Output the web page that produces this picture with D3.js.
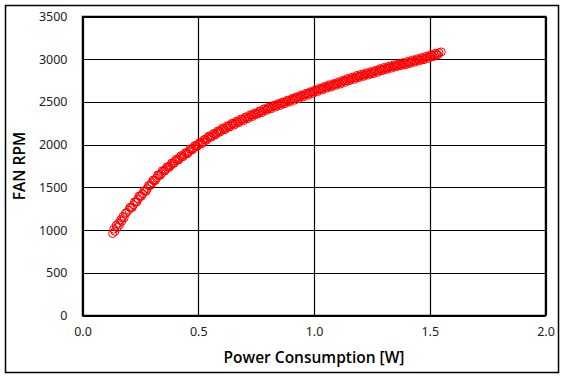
<!DOCTYPE html>
<html>
<head>
<meta charset="utf-8">
<script src="https://cdn.jsdelivr.net/npm/d3@7"></script>
<style>
html,body{margin:0;padding:0;background:#fff;}
svg{display:block;}
text{font-family:"Noto Sans","Open Sans",sans-serif;}
</style>
</head>
<body>
<svg id="chart" width="565" height="379"></svg>
<script>
const xTicks = [0.0, 0.5, 1.0, 1.5, 2.0];
const yTicks = [0, 500, 1000, 1500, 2000, 2500, 3000, 3500];
const xTitle = "Power Consumption [W]";
const yTitle = "FAN RPM";

// sweep 1
const power = [
0.130,0.135,0.140,0.145,0.150,0.155,0.160,0.165,0.170,0.175,0.180,0.185,0.190,0.200,0.210,0.220,0.230,0.240,0.250,0.260,
0.270,0.280,0.290,0.300,0.310,0.320,0.330,0.340,0.350,0.360,0.370,0.380,0.390,0.400,0.410,0.420,0.430,0.440,0.450,0.460,
0.470,0.480,0.490,0.500,0.510,0.520,0.530,0.540,0.550,0.560,0.570,0.580,0.590,0.600,0.610,0.620,0.630,0.640,0.650,0.660,
0.670,0.680,0.690,0.700,0.710,0.720,0.730,0.740,0.750,0.760,0.770,0.780,0.790,0.800,0.810,0.820,0.830,0.840,0.850,0.860,
0.870,0.880,0.890,0.900,0.910,0.920,0.930,0.940,0.950,0.960,0.970,0.980,0.990,1.000,1.010,1.020,1.030,1.040,1.050,1.060,
1.070,1.080,1.090,1.100,1.110,1.120,1.130,1.140,1.150,1.160,1.170,1.180,1.190,1.200,1.210,1.220,1.230,1.240,1.250,1.260,
1.270,1.280,1.290,1.300,1.310,1.320,1.330,1.340,1.350,1.360,1.370,1.380,1.390,1.400,1.410,1.420,1.430,1.440,1.450,1.460,
1.470,1.480,1.490,1.500,1.510,1.520,1.530,1.540,1.550
];
const rpm = [
960,1010,985,1055,1030,1080,1060,1120,1105,1160,1145,1195,1205,1235,1265,1295,1330,1365,1400,1425,
1460,1485,1525,1555,1580,1610,1645,1660,1695,1710,1740,1755,1780,1805,1820,1845,1860,1885,1900,1920,
1945,1960,1985,2000,2020,2030,2060,2070,2095,2100,2125,2135,2155,2170,2185,2195,2215,2225,2245,2250,
2270,2275,2295,2300,2320,2325,2345,2350,2365,2370,2390,2395,2415,2420,2435,2440,2455,2460,2475,2480,
2495,2500,2515,2520,2535,2540,2555,2560,2575,2580,2595,2600,2615,2620,2635,2640,2655,2660,2675,2675,
2690,2695,2710,2710,2725,2730,2745,2750,2765,2765,2780,2785,2800,2800,2815,2815,2830,2835,2845,2850,
2860,2865,2880,2880,2895,2895,2910,2915,2925,2925,2940,2940,2950,2950,2965,2965,2980,2980,2995,2995,
3010,3010,3025,3030,3045,3050,3060,3075,3085
];

// sweep 2
const power2 = [
0.205,0.215,0.225,0.235,0.245,0.255,0.265,0.275,0.285,0.295,0.305,0.315,0.325,0.335,0.345,0.355,0.365,0.375,0.385,0.395,
0.405,0.415,0.425,0.435,0.445,0.455,0.465,0.475,0.485,0.495,0.505,0.515,0.525,0.535,0.545,0.555,0.565,0.575,0.585,0.595,
0.605,0.615,0.625,0.635,0.645,0.655,0.665,0.675,0.685,0.695,0.705,0.715,0.725,0.735,0.745,0.755,0.765,0.775,0.785,0.795,
0.805,0.815,0.825,0.835,0.845,0.855,0.865,0.875,0.885,0.895,0.905,0.915,0.925,0.935,0.945,0.955,0.965,0.975,0.985,0.995,
1.005,1.015,1.025,1.035,1.045,1.055,1.065,1.075,1.085,1.095,1.105,1.115,1.125,1.135,1.145,1.155,1.165,1.175,1.185,1.195,
1.205,1.215,1.225,1.235,1.245,1.255,1.265,1.275,1.285,1.295,1.305,1.315,1.325,1.335,1.345,1.355,1.365,1.375,1.385,1.395,
1.405,1.415,1.425,1.435,1.445,1.455,1.465,1.475,1.485,1.495,1.505,1.515,1.525,1.535
];
const rpm2 = [
1265,1265,1330,1330,1400,1395,1460,1455,1520,1525,1585,1580,1645,1640,1695,1690,1740,1735,1785,1780,
1830,1820,1870,1860,1905,1895,1950,1940,1990,1980,2025,2010,2060,2050,2100,2085,2130,2115,2160,2150,
2195,2175,2220,2205,2250,2230,2275,2255,2300,2280,2325,2305,2350,2330,2370,2355,2395,2375,2420,2400,
2440,2420,2460,2440,2480,2460,2500,2480,2520,2500,2540,2520,2560,2540,2580,2560,2600,2580,2620,2600,
2640,2620,2660,2640,2680,2660,2700,2675,2715,2695,2735,2710,2755,2730,2775,2750,2790,2765,2810,2785,
2825,2800,2840,2815,2855,2830,2870,2845,2890,2865,2905,2880,2920,2895,2935,2910,2945,2925,2960,2935,
2975,2950,2990,2965,3005,2980,3020,2995,3035,3010,3055,3030,3070,3050
];

const svg = d3.select("#chart");
const m = {left: 82.5, top: 16.5, right: 545.5, bottom: 315.5};

// outer border
svg.append("rect").attr("x", 5.5).attr("y", 5.5).attr("width", 553).attr("height", 367)
  .attr("fill", "#fff").attr("stroke", "#000").attr("stroke-width", 1.5);

const x = d3.scaleLinear().domain([0, 2.0]).range([m.left, m.right]);
const y = d3.scaleLinear().domain([0, 3500]).range([m.bottom, m.top]);

// gridlines
const g = svg.append("g");
g.selectAll("line.vg").data(xTicks).enter().append("line")
  .attr("x1", d => Math.round(x(d)) + 0.5).attr("x2", d => Math.round(x(d)) + 0.5)
  .attr("y1", m.top).attr("y2", m.bottom)
  .attr("stroke", "#000").attr("stroke-width", 1.2);
g.selectAll("line.hg").data(yTicks).enter().append("line")
  .attr("y1", d => Math.round(y(d)) + 0.5).attr("y2", d => Math.round(y(d)) + 0.5)
  .attr("x1", m.left).attr("x2", m.right)
  .attr("stroke", "#000").attr("stroke-width", 1.2);

svg.append("rect").attr("x", m.left).attr("y", m.top)
  .attr("width", m.right - m.left).attr("height", m.bottom - m.top)
  .attr("fill", "none").attr("stroke", "#000").attr("stroke-width", 1.5);

// tick labels via axes (no domain/tick lines)
const xAxis = d3.axisBottom(x).tickValues(xTicks).tickFormat(d3.format(".1f")).tickSize(0).tickPadding(12);
const xa = svg.append("g").attr("transform", `translate(0,${m.bottom})`).call(xAxis);
xa.select(".domain").remove();
xa.selectAll("text").attr("font-size", 12.5).attr("fill", "#222")
  .style("font-family", '"Noto Sans","Open Sans",sans-serif');

const yAxis = d3.axisLeft(y).tickValues(yTicks).tickFormat(d3.format("d")).tickSize(0).tickPadding(15);
const ya = svg.append("g").attr("transform", `translate(${m.left},0)`).call(yAxis);
ya.select(".domain").remove();
ya.selectAll("text").attr("font-size", 12.5).attr("fill", "#222")
  .style("font-family", '"Noto Sans","Open Sans",sans-serif');

// points
const pts = power.map((p, i) => ({p, r: rpm[i]}))
  .concat(power2.map((p, i) => ({p, r: rpm2[i]})));
svg.append("g").selectAll("circle").data(pts).enter().append("circle")
  .attr("cx", d => x(d.p)).attr("cy", d => y(d.r)).attr("r", 4)
  .attr("fill", "none").attr("stroke", "#ff0000").attr("stroke-width", 1);

// titles
svg.append("text").attr("x", (m.left + m.right) / 2).attr("y", 363)
  .attr("text-anchor", "middle").attr("font-size", 15.5).attr("font-weight", 600)
  .style("font-family", '"Open Sans","Noto Sans",sans-serif')
  .attr("fill", "#000").text(xTitle);
svg.append("text").attr("transform", `translate(25,${(m.top + m.bottom) / 2}) rotate(-90)`)
  .attr("text-anchor", "middle").attr("font-size", 15.5).attr("font-weight", 600)
  .style("font-family", '"Open Sans","Noto Sans",sans-serif')
  .attr("fill", "#000").text(yTitle);
</script>
</body>
</html>
